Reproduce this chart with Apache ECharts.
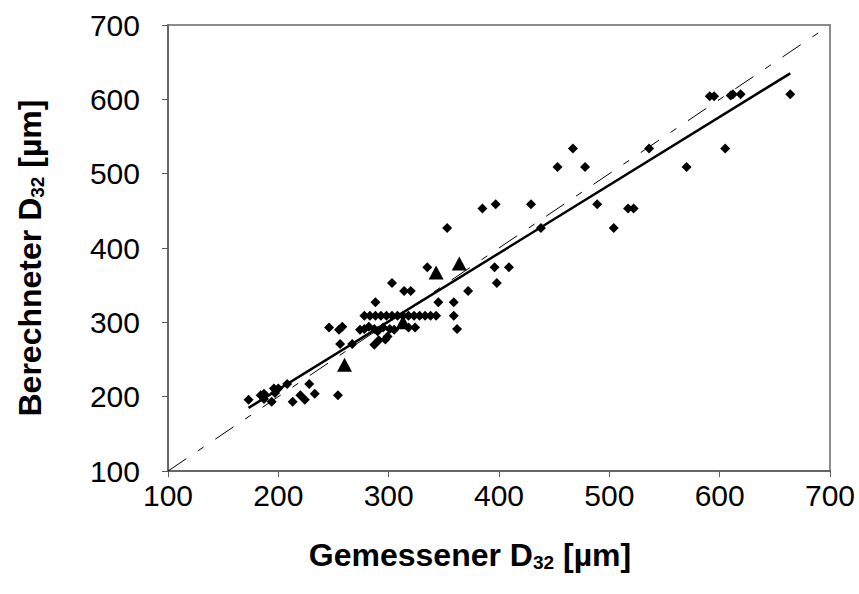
<!DOCTYPE html>
<html><head><meta charset="utf-8">
<script src="https://cdn.jsdelivr.net/npm/echarts@6/dist/echarts.min.js"></script>
<style>html,body{margin:0;padding:0;background:#fff}#c{width:859px;height:594px}</style>
</head><body><div id="c"></div>
<script>
// Measured (x) vs calculated (y) Sauter diameter D32 in µm
const diamondX = [173,184,187,187,194,196,200,197,208,213,220,224,228,233,254,
  246,255,258,256,267,274,278,282,287,290,295,301,305,318,324,287,291,297,299,288,303,314,320,335,345,359,359,362,372,353,
  278,283,288,293,298,303,308,313,318,323,328,333,338,343,
  385,397,396,409,398,429,438,453,467,478,489,504,517,522,536,570,591,595,605,610,612,619,664];
const diamondY = [196,202,204,197,193,211,211,205,217,193,202,196,217,204,202,
  293,290,294,271,271,290,291,294,291,288,293,291,290,293,293,270,276,277,281,327,353,342,342,374,327,327,309,291,342,427,
  309,309,309,309,309,309,309,309,309,309,309,309,309,309,
  453,459,374,374,353,459,427,509,534,509,459,427,453,453,534,509,604,604,534,605,607,607,607];
const triangleX = [260,313,343,364];
const triangleY = [243,300,367,379];
// linear regression of the whole data set
const fitSlope = 0.9165, fitIntercept = 26.4;
const fitRange = [173,664];
const diagRange = [100,700];
const axisTicks = [100,200,300,400,500,600,700];

const chart = echarts.init(document.getElementById('c'), null, {renderer:'svg'});
const zip = (a,b)=>a.map((v,i)=>[v,b[i]]);
const FF = 'Liberation Sans, Arial, sans-serif';
const labelStyle = {fontFamily:FF, fontSize:30, color:'#000'};
const nameStyle = {fontFamily:FF, fontSize:32, fontWeight:'bold', color:'#000',
  rich:{sub:{fontFamily:FF, fontSize:19, fontWeight:'bold', verticalAlign:'bottom', padding:[16,0,0,0]}}};
chart.setOption({
  animation:false,
  grid:{left:168, right:29, top:25, bottom:123, show:true, borderColor:'#8c8c8c', borderWidth:2, backgroundColor:'#fff'},
  xAxis:{type:'value', min:axisTicks[0], max:axisTicks[axisTicks.length-1], interval:100,
    name:'Gemessener D{sub|32} [µm]', nameLocation:'middle', nameGap:66,
    nameTextStyle:Object.assign({}, nameStyle, {padding:[0,58,0,0]}),
    axisLine:{lineStyle:{color:'#5a5a5a', width:1.5}}, axisTick:{length:6, lineStyle:{color:'#5a5a5a'}},
    axisLabel:Object.assign({margin:9}, labelStyle), splitLine:{show:false}},
  yAxis:{type:'value', min:axisTicks[0], max:axisTicks[axisTicks.length-1], interval:100,
    name:'Berechneter D{sub|32} [µm]', nameLocation:'middle', nameGap:121, nameRotate:90,
    nameTextStyle:Object.assign({}, nameStyle, {padding:[0,20,0,0]}),
    axisLine:{lineStyle:{color:'#5a5a5a', width:1.5}}, axisTick:{length:6, lineStyle:{color:'#5a5a5a'}},
    axisLabel:Object.assign({margin:28}, labelStyle), splitLine:{show:false}},
  series:[
    {type:'line', data:diagRange.map(v=>[v,v]), symbol:'none', silent:true,
      lineStyle:{color:'#000', width:1, type:[22,14,7,14]}},
    {type:'line', data:fitRange.map(x=>[x, fitSlope*x+fitIntercept]), symbol:'none', silent:true,
      lineStyle:{color:'#000', width:2.5}},
    {type:'scatter', data:zip(diamondX,diamondY), symbol:'diamond', symbolSize:10, itemStyle:{color:'#000', opacity:1}},
    {type:'scatter', data:zip(triangleX,triangleY), symbol:'triangle', symbolSize:[15,14], itemStyle:{color:'#000', opacity:1}}
  ]
});
</script></body></html>
